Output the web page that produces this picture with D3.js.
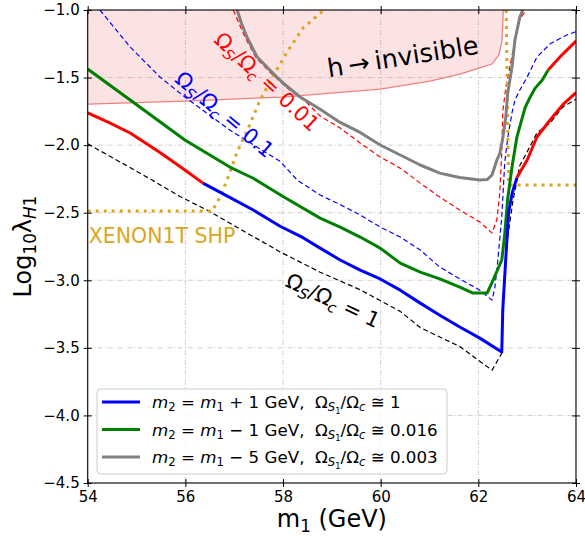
<!DOCTYPE html>
<html><head><meta charset="utf-8">
<script src="https://cdn.jsdelivr.net/npm/d3@7"></script>
<style>body{margin:0;background:#fff} svg{display:block;font-family:"DejaVu Sans",sans-serif}</style>
</head><body>
<svg id="c" width="585" height="536"></svg>
<script>
// ---------- data ----------
const xTicks = [54, 56, 58, 60, 62, 64];
const yTicks = [-1.0, -1.5, -2.0, -2.5, -3.0, -3.5, -4.0, -4.5];

// h -> invisible excluded region (lower boundary)
const hInvisBoundary = [[54.00,-1.696],[55.99,-1.674],[57.98,-1.644],[59.99,-1.585],[61.01,-1.526],[61.62,-1.474],[62.03,-1.429],[62.28,-1.400],[62.42,-1.333],[62.48,-1.237],[62.50,-1.111],[62.51,-1.0]];

// m2 = m1 + 1 GeV (red = excluded parts)
const line1RedLow = [[54.00,-1.762],[54.45,-1.835],[54.87,-1.910],[55.48,-2.055],[55.99,-2.184],[56.36,-2.281]];
const line1Blue = [[56.36,-2.281],[56.85,-2.375],[57.39,-2.480],[57.94,-2.600],[58.41,-2.685],[58.76,-2.762],[59.17,-2.850],[59.58,-2.925],[59.99,-2.990],[60.40,-3.073],[60.81,-3.169],[61.21,-3.258],[61.62,-3.346],[62.03,-3.428],[62.48,-3.531],[62.50,-3.22],[62.56,-2.85],[62.62,-2.50],[62.69,-2.36],[62.79,-2.24]];
const line1RedHigh = [[62.79,-2.24],[63.00,-2.11],[63.20,-1.94],[63.47,-1.814],[63.73,-1.70],[64.00,-1.612]];

// m2 = m1 - 1 GeV
const line2Green = [[54.00,-1.437],[54.87,-1.666],[55.99,-1.962],[56.91,-2.162],[57.39,-2.245],[58.00,-2.38],[58.76,-2.540],[59.17,-2.606],[59.58,-2.680],[59.99,-2.762],[60.40,-2.873],[60.81,-2.939],[61.21,-2.990],[61.62,-3.050],[61.89,-3.095],[62.18,-3.095],[62.30,-3.00],[62.48,-2.85],[62.54,-2.66],[62.60,-2.40],[62.69,-2.16],[62.79,-1.94],[62.89,-1.81],[62.96,-1.72],[63.06,-1.645],[63.16,-1.58],[63.31,-1.518],[63.43,-1.444]];
const line2Red = [[63.43,-1.444],[63.67,-1.348],[64.00,-1.23]];

// m2 = m1 - 5 GeV
const line3Gray = [[57.06,-1.0],[57.15,-1.10],[57.26,-1.20],[57.47,-1.348],[57.73,-1.444],[58.00,-1.540],[58.35,-1.644],[58.76,-1.735],[59.17,-1.832],[59.58,-1.906],[59.99,-1.999],[60.40,-2.073],[60.81,-2.147],[61.21,-2.207],[61.62,-2.240],[62.03,-2.258],[62.18,-2.255],[62.28,-2.221],[62.38,-2.11],[62.44,-2.06],[62.50,-1.95],[62.56,-1.80],[62.60,-1.62],[62.69,-1.42],[62.75,-1.222],[62.85,-1.052],[62.91,-1.0]];

// relic-density contours
const relic001 = [[56.98,-1.0],[57.22,-1.20],[57.45,-1.355],[57.75,-1.466],[58.06,-1.57],[58.47,-1.68],[58.76,-1.785],[59.17,-1.873],[59.58,-1.984],[59.99,-2.088],[60.40,-2.170],[60.81,-2.281],[61.21,-2.384],[61.62,-2.480],[62.03,-2.569],[62.28,-2.651],[62.38,-2.55],[62.44,-2.35],[62.48,-2.05],[62.50,-1.75],[62.56,-1.58],[62.62,-1.47],[62.71,-1.296],[62.79,-1.13],[62.85,-1.07],[62.98,-1.0]];
const relic01 = [[54.25,-1.0],[54.87,-1.274],[55.48,-1.496],[55.99,-1.644],[56.91,-1.888],[57.94,-2.12],[58.29,-2.258],[58.76,-2.369],[59.17,-2.44],[59.58,-2.517],[59.99,-2.606],[60.40,-2.680],[60.81,-2.776],[61.21,-2.902],[61.62,-2.99],[62.03,-3.073],[62.28,-3.147],[62.34,-3.05],[62.40,-2.85],[62.48,-2.53],[62.54,-2.13],[62.60,-1.95],[62.69,-1.76],[62.75,-1.666],[62.85,-1.592],[63.00,-1.496],[63.20,-1.348],[63.47,-1.25],[63.81,-1.185],[64.00,-1.16]];
const relic1 = [[54.00,-1.99],[55.28,-2.25],[55.89,-2.38],[56.44,-2.48],[57.94,-2.79],[58.76,-2.94],[59.58,-3.07],[59.99,-3.15],[60.40,-3.23],[60.81,-3.35],[61.21,-3.42],[61.62,-3.49],[62.28,-3.665],[62.48,-3.54],[62.50,-3.17],[62.58,-2.73],[62.71,-2.41],[62.85,-2.15],[63.00,-2.05],[63.20,-1.91],[63.47,-1.836],[63.73,-1.718],[64.00,-1.66]];

// XENON1T SHP limits
const xenonLeft = [[54.00,-2.488],[56.55,-2.488],[56.71,-2.384],[56.87,-2.244],[57.06,-2.051],[57.29,-1.873],[57.53,-1.666],[57.80,-1.489],[58.08,-1.311],[58.41,-1.133],[58.84,-1.0]];
const xenonRight = [[62.57,-1.0],[62.62,-2.295],[64.00,-2.295]];

const legendLabels = [
  [{t:"m",it:1},{t:"2",sub:1},{t:" = "},{t:"m",it:1},{t:"1",sub:1},{t:" + 1 GeV,  Ω"},{t:"S",it:1,sub:1},{t:"1",sub:2},{t:"/Ω"},{t:"c",it:1,sub:1},{t:" ≅ 1"}],
  [{t:"m",it:1},{t:"2",sub:1},{t:" = "},{t:"m",it:1},{t:"1",sub:1},{t:" − 1 GeV,  Ω"},{t:"S",it:1,sub:1},{t:"1",sub:2},{t:"/Ω"},{t:"c",it:1,sub:1},{t:" ≅ 0.016"}],
  [{t:"m",it:1},{t:"2",sub:1},{t:" = "},{t:"m",it:1},{t:"1",sub:1},{t:" − 5 GeV,  Ω"},{t:"S",it:1,sub:1},{t:"1",sub:2},{t:"/Ω"},{t:"c",it:1,sub:1},{t:" ≅ 0.003"}]
];
const legendColors = ["#0000ff","#008000","#808080"];

// ---------- chart ----------
const svg = d3.select("#c");
const L = 87.7, R = 576, T = 10, B = 483;
const x = d3.scaleLinear([54, 64], [L, R]);
const y = d3.scaleLinear([-4.5, -1.0], [B, T]);
const line = d3.line().x(d => x(d[0])).y(d => y(d[1]));

svg.append("clipPath").attr("id","clip").append("rect").attr("x",L).attr("y",T).attr("width",R-L).attr("height",B-T);
const plot = svg.append("g").attr("clip-path","url(#clip)");

// grid
const grid = plot.append("g");
xTicks.forEach(v => grid.append("line").attr("x1",x(v)).attr("x2",x(v)).attr("y1",T).attr("y2",B));
yTicks.forEach(v => grid.append("line").attr("y1",y(v)).attr("y2",y(v)).attr("x1",L).attr("x2",R));
grid.selectAll("line").attr("stroke","#c4c4c4").attr("stroke-width",0.8).attr("stroke-dasharray","5,2,1,2");

// h->invisible region
const regionPts = [[54,-1.0]].concat(hInvisBoundary);
plot.append("path").attr("d", line(regionPts) + "Z").attr("fill","rgba(240,128,128,0.22)").attr("stroke","none");
plot.append("path").attr("d", line(hInvisBoundary)).attr("fill","none").attr("stroke","#f08080").attr("stroke-width",1.3);

function draw(data, color, width, dash) {
  const p = plot.append("path").attr("d", line(data)).attr("fill","none").attr("stroke",color)
    .attr("stroke-width",width).attr("stroke-linejoin","round");
  if (dash) p.attr("stroke-dasharray",dash);
  return p;
}
draw(relic1, "#000000", 1.2, "5,3");
draw(relic01, "#0000ff", 1.2, "5,3");
draw(relic001, "#ff0000", 1.2, "5,3");
draw(xenonLeft, "#daa520", 3, "3,5");
draw(xenonRight, "#daa520", 3, "3,5");
draw(line3Gray, "#808080", 3);
draw(line2Green, "#008000", 3);
draw(line2Red, "#ff0000", 3);
draw(line1Blue, "#0000ff", 3);
draw(line1RedLow, "#ff0000", 3);
draw(line1RedHigh, "#ff0000", 3);

// rich text helper
function rich(g, px, py, segs, size, color, anchor, rot) {
  const t = g.append("text").attr("x",0).attr("y",0).attr("font-size",size).attr("fill",color)
    .attr("text-anchor",anchor||"start").style("white-space","pre")
    .attr("transform",`translate(${px},${py}) rotate(${rot||0})`);
  let cur = 0;
  segs.forEach(s => {
    const lvl = s.sub || 0;
    const off = lvl === 0 ? 0 : (lvl === 1 ? 0.2*size : 0.33*size);
    const fs = lvl === 0 ? size : (lvl === 1 ? size*0.7 : size*0.5);
    t.append("tspan").attr("dy", off - cur).attr("font-size", fs)
      .attr("font-style", s.it ? "italic" : "normal").text(s.t);
    cur = off;
  });
  return t;
}

// annotations
const ann = svg.append("g");
rich(ann, x(57.57), y(-1.518)+7, [{t:"Ω"},{t:"S",it:1,sub:1},{t:"/Ω"},{t:"c",it:1,sub:1},{t:" = 0.01"}], 21, "#ff0000", "middle", 43);
rich(ann, x(56.71), y(-1.762)+7, [{t:"Ω"},{t:"S",it:1,sub:1},{t:"/Ω"},{t:"c",it:1,sub:1},{t:" = 0.1"}], 21, "#0000ff", "middle", 40);
rich(ann, x(58.96), y(-3.147)+7, [{t:"Ω"},{t:"S",it:1,sub:1},{t:"/Ω"},{t:"c",it:1,sub:1},{t:" = 1"}], 21, "#000000", "middle", 25);
rich(ann, x(60.48), y(-1.41), [{t:"h\u2009→\u2009invisible"}], 25.5, "#000000", "middle", -9);
ann.append("text").attr("x", x(54)+1).attr("y", y(-2.725)).attr("font-size",20.5).attr("fill","#daa520").text("XENON1T SHP");

// legend
const lg = svg.append("g");
lg.append("rect").attr("x",97).attr("y",389).attr("width",350).attr("height",85).attr("rx",4)
  .attr("fill","rgba(255,255,255,0.85)").attr("stroke","#cccccc").attr("stroke-width",1);
legendLabels.forEach((segs, i) => {
  const cy = 402 + i*27.5;
  lg.append("line").attr("x1",102).attr("x2",140).attr("y1",cy).attr("y2",cy).attr("stroke",legendColors[i]).attr("stroke-width",3);
  rich(lg, 152, cy+6, segs, 16.7, "#000000", "start", 0);
});

// spines
svg.append("rect").attr("x",L).attr("y",T).attr("width",R-L).attr("height",B-T).attr("fill","none").attr("stroke","#000").attr("stroke-width",1.1);

// axes
const fmtY = d3.format(".1f");
const ax = svg.append("g").attr("transform",`translate(0,${B})`)
  .call(d3.axisBottom(x).tickValues(xTicks).tickFormat(d3.format("d")).tickSize(4).tickPadding(3));
const ay = svg.append("g").attr("transform",`translate(${L},0)`)
  .call(d3.axisLeft(y).tickValues(yTicks).tickFormat(fmtY).tickSize(4).tickPadding(5));
const axT = svg.append("g").attr("transform",`translate(0,${T})`)
  .call(d3.axisTop(x).tickValues(xTicks).tickFormat("").tickSize(4));
const ayR = svg.append("g").attr("transform",`translate(${R},0)`)
  .call(d3.axisRight(y).tickValues(yTicks).tickFormat("").tickSize(4));
[ax, ay, axT, ayR].forEach(g => { g.select(".domain").remove(); g.selectAll(".tick line").attr("stroke","#000").attr("stroke-width",1); });
ax.selectAll(".tick line").attr("y1",-4).attr("y2",4);
axT.selectAll(".tick line").attr("y1",-4).attr("y2",4);
ay.selectAll(".tick line").attr("x1",-4).attr("x2",4);
ayR.selectAll(".tick line").attr("x1",-4).attr("x2",4);
[ax, ay].forEach(g => g.selectAll("text").attr("font-size",15).attr("font-family","DejaVu Sans").attr("fill","#000"));
ax.selectAll("text").attr("y", 8);
ay.selectAll("text").attr("x", -8);

// axis labels
rich(svg, (L+R)/2, 527, [{t:"m"},{t:"1",sub:1},{t:" (GeV)"}], 24, "#000", "middle", 0);
rich(svg, 31, (T+B)/2, [{t:"Log"},{t:"10",sub:1},{t:"λ"},{t:"H",it:1,sub:1},{t:"1",sub:1}], 24, "#000", "middle", -90);
</script>
</body></html>
